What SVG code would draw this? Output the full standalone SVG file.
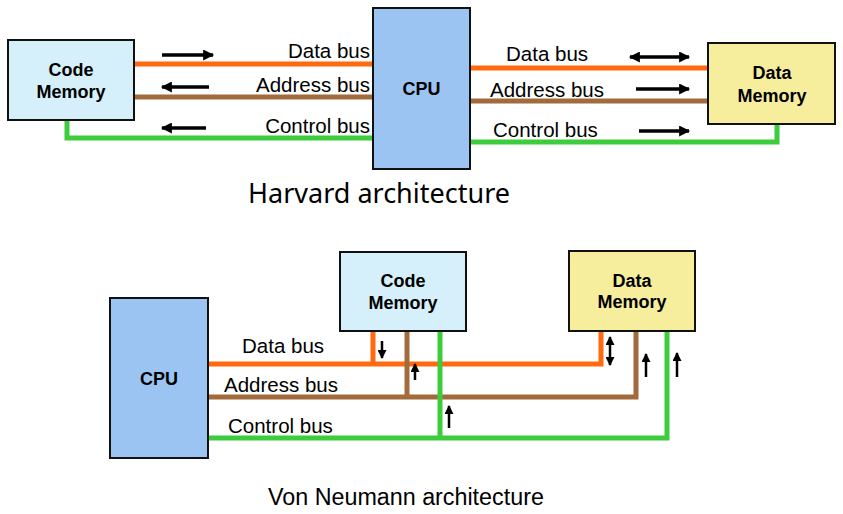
<svg xmlns="http://www.w3.org/2000/svg" width="843" height="514" viewBox="0 0 843 514">
<defs>
<marker id="ah" viewBox="0 0 10 10" refX="9" refY="5" markerWidth="13" markerHeight="11" markerUnits="userSpaceOnUse" orient="auto-start-reverse">
<path d="M0,0 L10,5 L0,10 z" fill="#000"/>
</marker>
<marker id="ahs" viewBox="0 0 10 10" refX="9" refY="5" markerWidth="10" markerHeight="9" markerUnits="userSpaceOnUse" orient="auto-start-reverse">
<path d="M0,0 L10,5 L0,10 z" fill="#000"/>
</marker>
<style>
.box{stroke:#111;stroke-width:2}
.code{fill:#d5f0fa}
.cpu{fill:#9cc4f2}
.data{fill:#f6ee9c}
.bt{font-family:"Liberation Sans",Arial,sans-serif;font-weight:bold;font-size:18px;fill:#000;text-anchor:middle}
.lbl{font-family:"Liberation Sans",Arial,sans-serif;font-size:20.5px;fill:#000}
.bus{fill:none;stroke-width:5;stroke-linejoin:miter;stroke-linecap:butt}
.o{stroke:#ff6a10}
.b{stroke:#a36b3b}
.g{stroke:#3ccc3c}
.arr{stroke:#000;stroke-width:3.5;fill:none;marker-end:url(#ah)}
.arr2{stroke:#000;stroke-width:3.5;fill:none;marker-end:url(#ah);marker-start:url(#ah)}
.va{stroke:#000;stroke-width:2.5;fill:none;marker-end:url(#ahs)}
.va2{stroke:#000;stroke-width:2.5;fill:none;marker-end:url(#ahs);marker-start:url(#ahs)}
</style>
</defs>
<rect width="843" height="514" fill="#fff"/>

<g id="connectors">
<!-- Harvard -->
<path class="bus o" d="M134,64 H373"/>
<path class="bus b" d="M134,97 H373"/>
<path class="bus g" d="M67,120 V138 H373"/>
<path class="bus o" d="M470,68 H708"/>
<path class="bus b" d="M470,101 H708"/>
<path class="bus g" d="M470,142 H777 V124"/>
<path class="arr" d="M162,55 H213"/>
<path class="arr" d="M209,87 H162"/>
<path class="arr" d="M206,128 H162"/>
<path class="arr2" d="M630,57 H689"/>
<path class="arr" d="M636,89 H689"/>
<path class="arr" d="M639,131 H689"/>
<!-- Von Neumann -->
<path class="bus o" d="M208,364 H601 V331"/>
<path class="bus o" d="M373,331 V364"/>
<path class="bus b" d="M208,397 H636 V331"/>
<path class="bus b" d="M407,331 V397"/>
<path class="bus g" d="M208,438 H667 V331"/>
<path class="bus g" d="M440,331 V438"/>
<path class="va" d="M382,341 V358"/>
<path class="va" d="M415,380 V364"/>
<path class="va" d="M449,428 V406"/>
<path class="va2" d="M610,337 V365"/>
<path class="va" d="M646,377 V354"/>
<path class="va" d="M677,377 V353"/>
</g>

<g id="h-code-memory">
<rect class="box code" x="8" y="40" width="126" height="80"/>
<text class="bt" x="71" y="76">Code</text>
<text class="bt" x="71" y="98">Memory</text>
</g>
<g id="h-cpu">
<rect class="box cpu" x="373" y="8" width="97" height="161"/>
<text class="bt" x="421.5" y="95">CPU</text>
</g>
<g id="h-data-memory">
<rect class="box data" x="708" y="43" width="127" height="81"/>
<text class="bt" x="772" y="79">Data</text>
<text class="bt" x="772" y="102">Memory</text>
</g>

<g id="h-labels">
<text class="lbl" x="370" y="58" text-anchor="end">Data bus</text>
<text class="lbl" x="370" y="92" text-anchor="end">Address bus</text>
<text class="lbl" x="370" y="133" text-anchor="end">Control bus</text>
<text class="lbl" x="506" y="61">Data bus</text>
<text class="lbl" x="490" y="97">Address bus</text>
<text class="lbl" x="493" y="137">Control bus</text>
</g>

<text id="harvard-title" x="248" y="203" font-family="'Noto Sans','Open Sans',sans-serif" font-size="27" fill="#000">Harvard architecture</text>

<g id="v-cpu">
<rect class="box cpu" x="110" y="298" width="98" height="160"/>
<text class="bt" x="159" y="385">CPU</text>
</g>
<g id="v-code-memory">
<rect class="box code" x="340" y="252" width="126" height="79"/>
<text class="bt" x="403" y="287">Code</text>
<text class="bt" x="403" y="309">Memory</text>
</g>
<g id="v-data-memory">
<rect class="box data" x="569" y="251" width="126" height="80"/>
<text class="bt" x="632" y="287">Data</text>
<text class="bt" x="632" y="308">Memory</text>
</g>

<g id="v-labels">
<text class="lbl" x="242" y="353">Data bus</text>
<text class="lbl" x="224" y="392">Address bus</text>
<text class="lbl" x="228" y="433">Control bus</text>
</g>

<text id="vn-title" x="268" y="505" font-family="'Liberation Sans',Arial,sans-serif" font-size="23.3" fill="#000">Von Neumann architecture</text>
</svg>
